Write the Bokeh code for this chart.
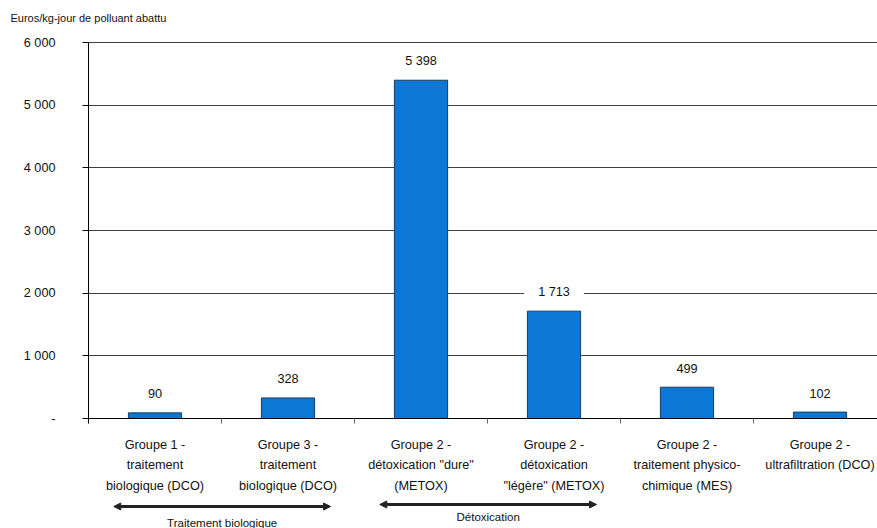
from bokeh.plotting import figure
from bokeh.models import (Range1d, FixedTicker, Label, Arrow, NormalHead,
                          ColumnDataSource)
from bokeh.embed import file_html
from bokeh.resources import INLINE

# ---------------- data ----------------
categories = [
    "Groupe 1 -\ntraitement\nbiologique (DCO)",
    "Groupe 3 -\ntraitement\nbiologique (DCO)",
    'Groupe 2 -\ndétoxication "dure"\n(METOX)',
    'Groupe 2 -\ndétoxication\n"légère" (METOX)',
    "Groupe 2 -\ntraitement physico-\nchimique (MES)",
    "Groupe 2 -\nultrafiltration (DCO)",
]
values = [90, 328, 5398, 1713, 499, 102]
y_ticks = [0, 1000, 2000, 3000, 4000, 5000, 6000]
y_tick_labels = ["-", "1 000", "2 000", "3 000", "4 000", "5 000", "6 000"]
y_title = "Euros/kg-jour de polluant abattu"
groups = ["Traitement biologique", "Détoxication"]
group_first = [0, 2]
group_last = [1, 3]

# ---------------- style ----------------
W, H = 877, 528
LEFT, TOP, BOTTOM = 88, 42, 110          # plot-area margins (px)
PLOT_H = H - TOP - BOTTOM
CAT_PX = 133
FONT = "Liberation Sans"
FS = "12.7px"
YMAX = y_ticks[-1]
px2y = YMAX / PLOT_H
px2x = 1.0 / CAT_PX
X_END = (W - LEFT) * px2x

n = len(categories)
centers = [i + 0.5 for i in range(n)]
labels = [f"{v:,}".replace(",", " ") for v in values]

src = ColumnDataSource(dict(x=centers, top=values, lab=labels))

# the frame covers the whole canvas; axes are pinned at 0 with fixed_location
p = figure(width=W, height=H, output_backend="svg", toolbar_location=None,
           x_range=Range1d(-LEFT * px2x, X_END),
           y_range=Range1d(-BOTTOM * px2y, YMAX + TOP * px2y),
           min_border=0)
p.outline_line_color = None
p.background_fill_color = "white"
p.border_fill_color = "white"

# grid
p.xgrid.visible = False
p.ygrid.ticker = FixedTicker(ticks=y_ticks)
p.ygrid.grid_line_color = "#404040"
p.ygrid.grid_line_width = 1
p.ygrid.bounds = (0, YMAX)
p.ygrid.cross_bounds = (0, X_END)

# bars
p.vbar(x="x", top="top", width=0.4, source=src, fill_color="#0A78D4",
       line_color="#1C3A5E", line_width=1)

# value labels
for xc, v, lab in zip(centers, values, labels):
    p.add_layout(Label(x=xc, y=v, y_offset=19, text=lab,
                       text_align="center", text_baseline="middle",
                       text_font=FONT, text_font_size=FS, text_color="#111111",
                       background_fill_color="white",
                       padding=dict(left=14, right=14, top=7, bottom=7)))

# y axis
ya = p.yaxis[0]
ya.fixed_location = 0
ya.bounds = (-5 * px2y, YMAX)
ya.ticker = FixedTicker(ticks=y_ticks, minor_ticks=[])
ya.major_label_overrides = {t: l for t, l in zip(y_ticks, y_tick_labels)}
ya.axis_line_color = "black"
ya.major_tick_line_color = "black"
ya.major_tick_out = 6
ya.major_tick_in = 0
ya.minor_tick_out = 0
ya.minor_tick_in = 0
ya.major_label_standoff = 27
ya.major_label_text_font = FONT
ya.major_label_text_font_size = FS
ya.major_label_text_color = "#111111"

# x axis
xa = p.xaxis[0]
xa.fixed_location = 0
xa.bounds = (0, X_END)
xa.ticker = FixedTicker(ticks=centers, minor_ticks=list(range(n + 1)))
xa.major_label_overrides = {c: t for c, t in zip(centers, categories)}
xa.axis_line_color = "black"
xa.major_tick_out = 0
xa.major_tick_in = 0
xa.minor_tick_out = 5
xa.minor_tick_in = 0
xa.minor_tick_line_color = "#556677"
xa.major_label_standoff = 14
xa.major_label_text_font = FONT
xa.major_label_text_font_size = FS
xa.major_label_text_color = "#111111"
xa.major_label_text_line_height = 1.47

# title (units label), top-left
p.add_layout(Label(x=(10 - LEFT) * px2x, y=YMAX + (TOP - 17.5) * px2y,
                   text=y_title, text_font=FONT, text_font_size="11px",
                   text_baseline="middle", text_color="#111111"))

# group arrows and names
arrow_dy = [88, 86]
label_dy = [104, 98]
for g, a, b, ady, ldy in zip(groups, group_first, group_last, arrow_dy, label_dy):
    xs, xe = a + 0.19, b + 0.82
    p.add_layout(Arrow(x_start=xs, y_start=-ady * px2y, x_end=xe, y_end=-ady * px2y,
                       line_color="#222222", line_width=3,
                       start=NormalHead(size=7, fill_color="#222222", line_color="#222222"),
                       end=NormalHead(size=7, fill_color="#222222", line_color="#222222")))
    p.add_layout(Label(x=(xs + xe) / 2, y=-ldy * px2y, text=g,
                       text_align="center", text_baseline="middle",
                       text_font=FONT, text_font_size="11.5px", text_color="#111111"))

open("out.html", "w").write(file_html(p, INLINE))
